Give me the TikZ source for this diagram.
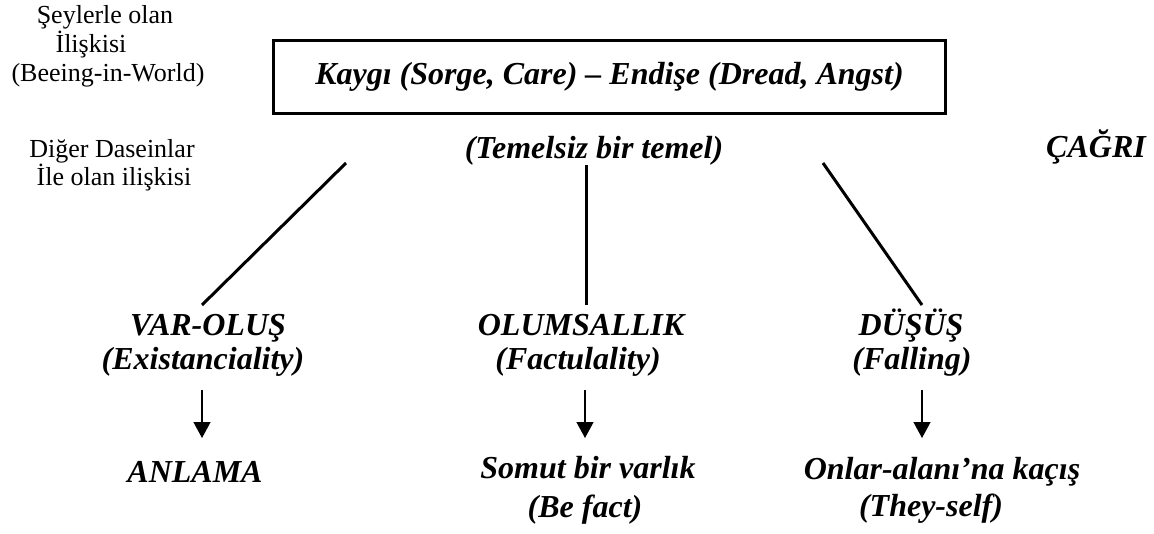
\documentclass[tikz,border=0pt]{standalone}
\usepackage{fontspec}
\setmainfont{Liberation Serif}
\usetikzlibrary{arrows.meta}
\begin{document}
\begin{tikzpicture}[x=1pt,y=-1pt,
  lbl/.style={font=\fontsize{32}{38}\selectfont\bfseries\itshape, anchor=base, inner sep=0pt},
  side/.style={font=\fontsize{26}{30}\selectfont, anchor=base, inner sep=0pt},
  link/.style={line width=3pt},
  arr/.style={line width=1.4pt, -{Triangle[length=16pt,width=17pt]}}]
\useasboundingbox (0,0) rectangle (1154,533);
\node[draw, line width=3pt, minimum width=671.6pt, minimum height=72.6pt, inner sep=0pt,
      font=\fontsize{32}{38}\selectfont\bfseries\itshape] (care) at (609.5,77)
      {Kaygı (Sorge, Care) – Endişe (Dread, Angst)};
\node[lbl] (temel) at (594,158) {(Temelsiz bir temel)};
\node[lbl] (cagri) at (1096,157) {ÇAĞRI};
\node[side] (s1a) at (105,23) {Şeylerle olan};
\node[side] (s1b) at (91,52) {İlişkisi};
\node[side] (s1c) at (108,81) {(Beeing-in-World)};
\node[side] (s2a) at (112,157) {Diğer Daseinlar};
\node[side] (s2b) at (114,185) {İle olan ilişkisi};
\node[lbl] (var) at (208,335) {VAR-OLUŞ};
\node[lbl] (exist) at (203,369) {(Existanciality)};
\node[lbl] (anlama) at (195,482) {ANLAMA};
\node[lbl] (olum) at (581,335) {OLUMSALLIK};
\node[lbl] (fact) at (578,369) {(Factulality)};
\node[lbl] (somut) at (588,478) {Somut bir varlık};
\node[lbl] (befact) at (585,517) {(Be fact)};
\node[lbl] (dusus) at (911,335) {DÜŞÜŞ};
\node[lbl] (falling) at (912,369) {(Falling)};
\node[lbl] (onlar) at (942,479) {Onlar-alanı’na kaçış};
\node[lbl] (they) at (931,516) {(They-self)};
\coordinate (l1t) at (346,163);
\coordinate (l1b) at (202,305);
\coordinate (l2t) at (586,165);
\coordinate (l2b) at (586,305);
\coordinate (l3t) at (823,163);
\coordinate (l3b) at (922,305);
\draw[link] (l1t) -- (l1b);
\draw[link] (l2t) -- (l2b);
\draw[link] (l3t) -- (l3b);
\coordinate (a1s) at (202,390);
\coordinate (a1e) at (202,438);
\coordinate (a2s) at (585,390);
\coordinate (a2e) at (585,438);
\coordinate (a3s) at (922,390);
\coordinate (a3e) at (922,438);
\draw[arr] (a1s) -- (a1e);
\draw[arr] (a2s) -- (a2e);
\draw[arr] (a3s) -- (a3e);
\end{tikzpicture}
\end{document}
